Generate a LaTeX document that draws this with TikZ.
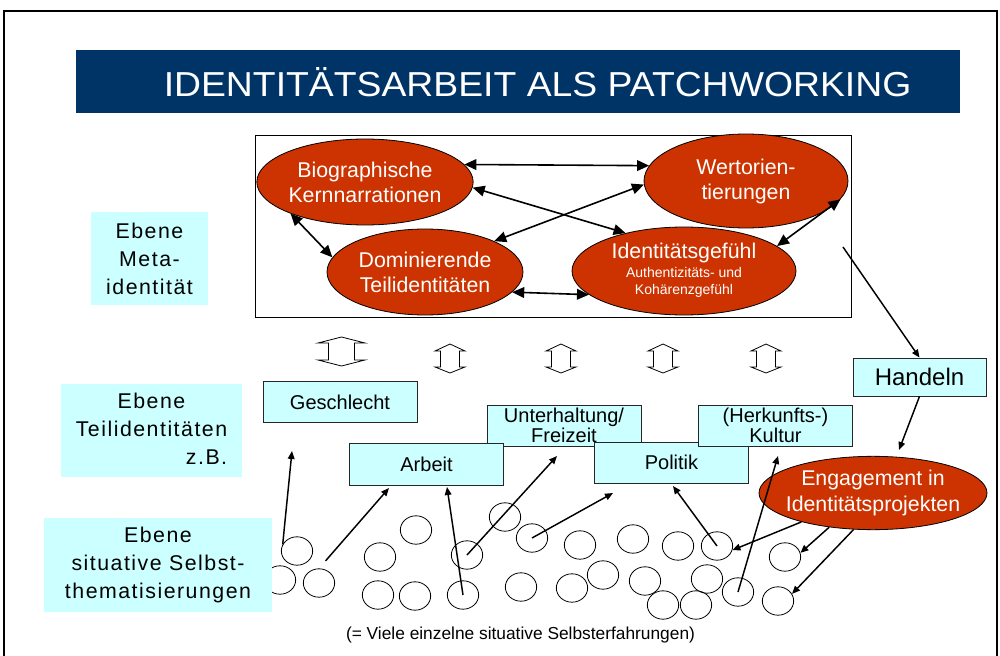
\documentclass[tikz,border=0pt]{standalone}
\usepackage{fontspec}
\setmainfont{Liberation Sans}
\usepackage{graphicx}
\usetikzlibrary{arrows.meta,shapes.geometric}
\definecolor{titelblau}{RGB}{0,51,102}
\definecolor{kernrot}{RGB}{204,51,0}
\definecolor{ebenecyan}{RGB}{204,255,255}

\begin{document}
\begin{tikzpicture}[x=0.75pt,y=0.75pt,yscale=-1,xscale=1,
  kern/.style={ellipse,draw=black,line width=0.6pt,fill=kernrot,text=white,inner sep=0pt,align=center,font=\fontsize{16}{18.75}\selectfont},
  ebene/.style={fill=ebenecyan,inner sep=0pt,align=center,font=\fontsize{16}{21}\selectfont\addfontfeatures{LetterSpace=7}},
  teil/.style={draw=black!85,line width=0.6pt,fill=ebenecyan,inner sep=0pt,align=center,minimum height=30.75pt,minimum width=115.5pt,font=\fontsize{15}{15}\selectfont},
  blase/.style={ellipse,draw=black,line width=0.6pt,inner sep=0pt,minimum width=23.5pt,minimum height=21.3pt},
  dpfeil/.style={{Triangle[length=9pt,width=8pt]}-{Triangle[length=9pt,width=8pt]},line width=1.2pt},
  pfeil/.style={-{Triangle[length=6pt,width=5pt]},line width=1.1pt},
  hohl/.style={line width=0.6pt,line join=miter}]
\useasboundingbox (0,0) rectangle (1000,656);

%Straight Lines: outer frame
\draw [line width=0.8pt] (4,656) -- (4,11) -- (997,11) -- (997,656);

%Shape: Rectangle (title banner)
\fill [titelblau] (76,50) rectangle (960,113);
% Text Node
\node [text=white,inner sep=0pt,font=\fontsize{26}{30}\selectfont] (titel) at (537.5,82) {\scalebox{1.077}[1]{IDENTITÄTSARBEIT ALS PATCHWORKING}};

%Shape: Rectangle (meta frame)
\draw [line width=0.6pt] (255,135) rectangle (851,317);

%Shape: Ellipse
\node [kern,minimum width=156pt,minimum height=64.5pt] (bio) at (365,182) {Biographische\\Kernnarrationen};
%Shape: Ellipse
\node [kern,minimum width=153pt,minimum height=70.5pt] (wert) at (746,181) {Wertorien-\\tierungen};
%Shape: Ellipse
\node [kern,minimum width=147pt,minimum height=64.5pt] (dom) at (425,272) {Dominierende\\Teilidentitäten};
%Shape: Ellipse
\node [kern,minimum width=168pt,minimum height=66pt] (ident) at (684,271) {\begin{tabular}{@{}c@{}}Identitätsgefühl\\[-3.75pt]
  \fontsize{10.5}{12.5}\selectfont Authentizitäts- und\\[-6.75pt]
  \fontsize{10.5}{12.5}\selectfont Kohärenzgefühl\end{tabular}};

%Straight Lines
\draw [dpfeil] (bio.10) -- (wert.171);
\draw [dpfeil] (bio.357) -- (ident.147);
\draw [dpfeil] (wert.182) -- (dom.24);
\draw [dpfeil] (bio.203) -- (dom.171);
\draw [dpfeil] (dom.347) -- (ident.194);
\draw [dpfeil] (wert.349) -- (ident.15);

%Shape: Up Down Arrow
\draw [hohl] (341.5,337) -- (365,343) -- (354.5,343) -- (354.5,360) -- (365,360) -- (341.5,366) -- (318,360) -- (328.5,360) -- (328.5,343) -- (318,343) -- cycle;
%Shape: Up Down Arrow
\draw [hohl] (450,344) -- (465,351) -- (459.5,351) -- (459.5,367) -- (465,367) -- (450,373) -- (435,367) -- (440.5,367) -- (440.5,351) -- (435,351) -- cycle;
%Shape: Up Down Arrow
\draw [hohl] (561,344) -- (576,351) -- (570.5,351) -- (570.5,367) -- (576,367) -- (561,373) -- (546,367) -- (551.5,367) -- (551.5,351) -- (546,351) -- cycle;
%Shape: Up Down Arrow
\draw [hohl] (663,344) -- (678,351) -- (672.5,351) -- (672.5,367) -- (678,367) -- (663,373) -- (648,367) -- (653.5,367) -- (653.5,351) -- (648,351) -- cycle;
%Shape: Up Down Arrow
\draw [hohl] (766,344) -- (781,351) -- (775.5,351) -- (775.5,367) -- (781,367) -- (766,373) -- (751,367) -- (756.5,367) -- (756.5,351) -- (751,351) -- cycle;

%Shape: Circles
\node [blase] (c1) at (297,551) {};
\node [blase] (c2) at (280,580) {};
\node [blase] (c3) at (319,583) {};
\node [blase] (c4) at (416,530) {};
\node [blase] (c5) at (380,557) {};
\node [blase] (c6) at (378,595) {};
\node [blase] (c7) at (415,596) {};
\node [blase] (c8) at (467,555) {};
\node [blase] (c9) at (463,595) {};
\node [blase] (c10) at (505,517) {};
\node [blase] (c11) at (532,538) {};
\node [blase] (c12) at (521,587) {};
\node [blase] (c13) at (580,545) {};
\node [blase] (c14) at (572,588) {};
\node [blase] (c15) at (603,575) {};
\node [blase] (c16) at (633,539) {};
\node [blase] (c17) at (645,581) {};
\node [blase] (c18) at (663,605) {};
\node [blase] (c19) at (678,546) {};
\node [blase] (c20) at (696,605) {};
\node [blase] (c21) at (707,579) {};
\node [blase] (c22) at (717,546) {};
\node [blase] (c23) at (738,592) {};
\node [blase] (c24) at (785,557) {};
\node [blase] (c25) at (778,601) {};

% Text Node: levels
\node [ebene,minimum width=87.75pt,minimum height=69.75pt] (metaebene) at (149.5,258.5) {Ebene\\Meta-\\identität};
\node [ebene,minimum width=135.75pt,minimum height=69.75pt] (teilebene) at (151.5,430.5) {\begin{tabular}{@{}c@{}}Ebene\\Teilidentitäten\\\multicolumn{1}{@{}r@{}}{z.B.}\end{tabular}};
\node [ebene,minimum width=171pt,minimum height=70.5pt] (situebene) at (158,565) {Ebene\\situative Selbst-\\thematisierungen};

% Text Node: partial identities
\node [teil] (geschlecht) at (340,402) {Geschlecht};
\node [teil,font=\fontsize{15}{13.5}\selectfont] (freizeit) at (564,425.5) {Unterhaltung/\\Freizeit};
\node [teil,minimum height=31.5pt] (arbeit) at (426.5,464) {Arbeit};
\node [teil] (politik) at (671.5,462.5) {Politik};
\node [teil] (kultur) at (775.5,425.5) {(Herkunfts-)\\Kultur};

%Shape: Rectangle + Ellipse (action)
\node [teil,minimum width=99.75pt,minimum height=28.5pt,font=\fontsize{18}{20}\selectfont] (handeln) at (919.5,377) {Handeln};
\node [kern,minimum width=171pt,minimum height=55pt,inner xsep=-6pt,font=\fontsize{16}{20}\selectfont] (eng) at (873,493) {Engagement in\\Identitätsprojekten};

\coordinate (hstart) at (843,247);
\coordinate (hziel) at (899,450);
\draw [pfeil] (hstart) -- (handeln.north);
\draw [pfeil] (handeln.south) -- (hziel);

%Straight Lines: circles to partial identities
\coordinate (zg) at (292,451);
\coordinate (za1) at (389,488);
\coordinate (za2) at (447,487);
\coordinate (zf) at (557,456);
\coordinate (zp1) at (613,493);
\coordinate (zp2) at (673,486);
\coordinate (zk) at (778,456);
\draw [pfeil] (c1.155) -- (zg);
\draw [pfeil,shorten <=7.5pt] (c3.north) -- (za1);
\draw [pfeil] (c9.center) -- (za2);
\draw [pfeil] (c8.center) -- (zf);
\draw [pfeil] (c11.center) -- (zp1);
\draw [pfeil] (c22.center) -- (zp2);
\draw [pfeil] (c23.center) -- (zk);
\draw [pfeil] (eng.202) -- (c22.345);
\draw [pfeil] (eng.218) -- (c24.15);
\draw [pfeil] (eng.242) -- (c25.27);

% Text Node
\node [inner sep=0pt,font=\fontsize{13}{15}\selectfont] (fussnote) at (520.5,635) {(= Viele einzelne situative Selbsterfahrungen)};

\end{tikzpicture}
\end{document}
